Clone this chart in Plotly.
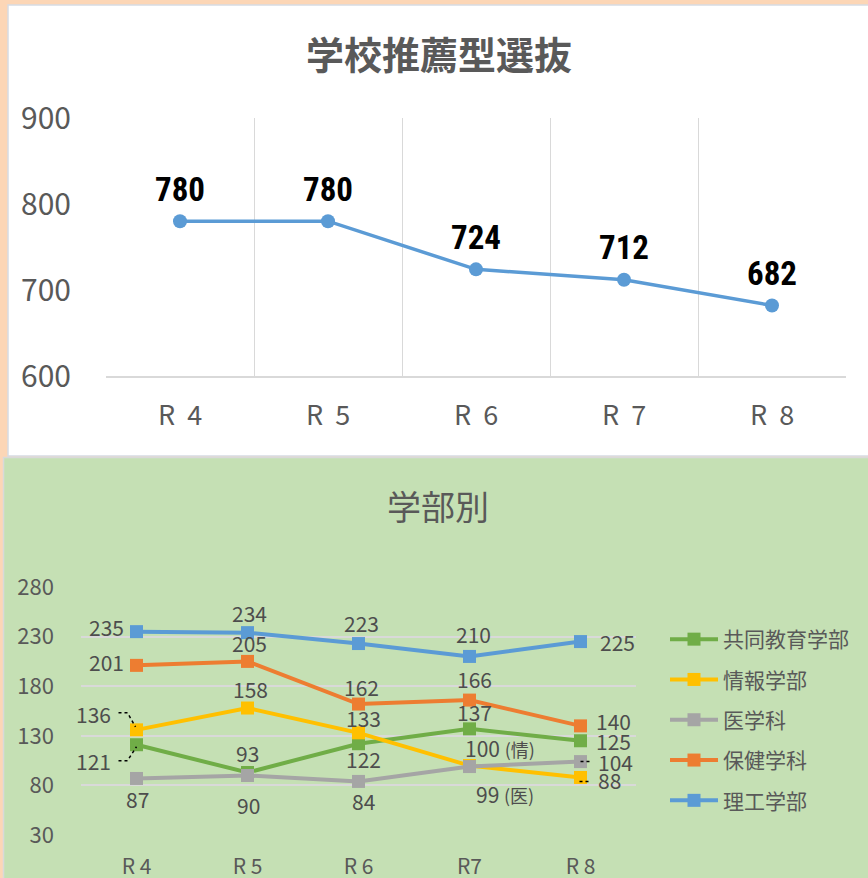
import plotly.graph_objects as go

# 学校推薦型選抜 (top chart)
years_top = ["R\u00a0\u00a04", "R\u00a0\u00a05", "R\u00a0\u00a06", "R\u00a0\u00a07", "R\u00a0\u00a08"]
total = [780, 780, 724, 712, 682]
top_ticks = [600, 700, 800, 900]

# 学部別 (bottom chart)
years_bottom = ["R 4", "R 5", "R 6", "R7", "R 8"]
kyodo = [121, 93, 122, 137, 125]
joho = [136, 158, 133, 100, 88]
igaku = [87, 90, 84, 99, 104]
hoken = [201, 205, 162, 166, 140]
riko = [235, 234, 223, 210, 225]
bottom_ticks = [30, 80, 130, 180, 230, 280]

W, H = 868, 878
FONT = "Noto Sans CJK JP, Noto Sans, sans-serif"
GRAY = "#595959"
LABEL = "#4d4d4d"
PEACH = "#FCD6B6"


def px(x):
    return x / W


def py(y):
    return 1 - y / H


fig = go.Figure()

fig.add_trace(go.Scatter(
    x=years_top, y=total, mode="lines+markers", showlegend=False,
    line=dict(color="#5B9BD5", width=3.5),
    marker=dict(size=14, color="#5B9BD5"),
    xaxis="x", yaxis="y", hoverinfo="skip",
))

for i, v in enumerate(total):
    fig.add_annotation(
        x=years_top[i], y=v, xref="x", yref="y", text=str(v), showarrow=False,
        yshift=32, font=dict(family="Liberation Sans Narrow, Roboto Condensed, Roboto, sans-serif",
                             size=33, color="black", weight="bold"),
    )

# series in Excel order (later ones drawn on top)
series = [
    ("共同教育学部", kyodo, "#70AD47"),
    ("情報学部", joho, "#FFC000"),
    ("医学科", igaku, "#A5A5A5"),
    ("保健学科", hoken, "#ED7D31"),
    ("理工学部", riko, "#5B9BD5"),
]

# label offsets (px) per series per point
offsets = {
    "共同教育学部": [(-43, -16), (0, 20), (5, -15), (5, 17), (33, 0)],
    "情報学部": [(-43, 16), (3, 19), (5, 15), (30, 18), (29, -3)],
    "医学科": [(1, -21), (1, -30), (5, -20), (35, -27), (35, 0)],
    "保健学科": [(-30, 3), (2, 18), (3, 17), (5, 21), (33, 5)],
    "理工学部": [(-30, 5), (2, 20), (3, 21), (4, 22), (37, 0)],
}
suffix = {("情報学部", 3): " <span style='font-size:18px'>(情)</span>",
          ("医学科", 3): " <span style='font-size:18px'>(医)</span>"}

for name, vals, color in series:
    fig.add_trace(go.Scatter(
        x=years_bottom, y=vals, name=name, mode="lines+markers",
        legendgroup=name,
        line=dict(color=color, width=4),
        marker=dict(symbol="square", size=13, color=color),
        xaxis="x2", yaxis="y2", hoverinfo="skip",
    ))
    for i, v in enumerate(vals):
        dx, dy = offsets[name][i]
        fig.add_annotation(
            x=years_bottom[i], y=v, xref="x2", yref="y2",
            text=str(v) + suffix.get((name, i), ""), showarrow=False,
            xshift=dx, yshift=dy, font=dict(family=FONT, size=21, color=LABEL),
        )

# dotted leader lines, anchored to points
leaders = [
    ("R 4", joho[0], "M-18,17 L-9,17 L-1,3"),
    ("R 4", kyodo[0], "M-18,-16 L-9,-16 L0,-2"),
    ("R 8", igaku[4], "M0,0 L10,0"),
    ("R 8", joho[4], "M-1,-4 L10,-4"),
]
for xa, ya, path in leaders:
    fig.add_shape(type="path", xref="x2", yref="y2", xsizemode="pixel", ysizemode="pixel",
                  xanchor=xa, yanchor=ya, path=path,
                  line=dict(color="black", width=1.5, dash="dot"))

# panels
fig.add_shape(type="rect", xref="paper", yref="paper", layer="below",
              x0=px(8), x1=px(W + 5), y0=py(456), y1=py(5),
              fillcolor="white", line=dict(color="#D6DCE4", width=1.5))
fig.add_shape(type="rect", xref="paper", yref="paper", layer="below",
              x0=px(3.5), x1=px(W + 5), y0=py(H + 5), y1=py(457.5),
              fillcolor="#C5E0B4", line=dict(color="#D9D9D9", width=1.5))

fig.add_annotation(x=px(439), y=py(52), xref="paper", yref="paper", text="学校推薦型選抜",
                   xanchor="center", yanchor="middle", showarrow=False,
                   font=dict(family=FONT, size=38, color=GRAY, weight="bold"))
fig.add_annotation(x=px(438), y=py(505), xref="paper", yref="paper", text="学部別",
                   xanchor="center", yanchor="middle", showarrow=False,
                   font=dict(family=FONT, size=34, color=GRAY))

fig.update_layout(
    width=W, height=H, margin=dict(l=0, r=0, t=0, b=0, autoexpand=False),
    paper_bgcolor=PEACH, plot_bgcolor="rgba(0,0,0,0)",
    font=dict(family=FONT, color=GRAY),
    xaxis=dict(domain=[px(106), px(846)], anchor="y", type="category", automargin=False,
               range=[-0.5, 4.5], tickson="boundaries", showgrid=True,
               gridcolor="#D9D9D9", gridwidth=1.2, showline=True, linecolor="#D9D9D9",
               linewidth=1.5, ticks="", ticklabelstandoff=15,
               tickfont=dict(size=27, color=GRAY), zeroline=False),
    yaxis=dict(domain=[py(376), py(118)], anchor="x", range=[600, 900], automargin=False,
               tickvals=top_ticks, showgrid=False, zeroline=False, showline=False,
               ticks="", ticklabelstandoff=34, tickfont=dict(size=30, color=GRAY)),
    xaxis2=dict(domain=[px(81), px(636)], anchor="y2", type="category", automargin=False,
                range=[-0.5, 4.5], showgrid=False, showline=False, ticks="",
                ticklabelstandoff=17, tickfont=dict(size=21, color=GRAY), zeroline=False),
    yaxis2=dict(domain=[py(835), py(587)], anchor="x2", range=[30, 280], automargin=False,
                tickvals=bottom_ticks, showgrid=True, gridcolor="#D9D9D9", gridwidth=2,
                zeroline=False, showline=False, ticks="", ticklabelstandoff=26,
                tickfont=dict(size=22, color=GRAY)),
    legend=dict(x=px(665), y=py(619), xanchor="left", yanchor="top",
                bgcolor="rgba(0,0,0,0)", font=dict(family=FONT, size=21, color=GRAY),
                tracegroupgap=10, itemwidth=48, traceorder="grouped"),
)

# page body margin would shift the figure by 8px
fig.write_html("out.html", config={"displayModeBar": False}, post_script=(
    "document.body.style.margin='0';document.body.style.padding='0';"
    "document.body.style.background='" + PEACH + "';"))
